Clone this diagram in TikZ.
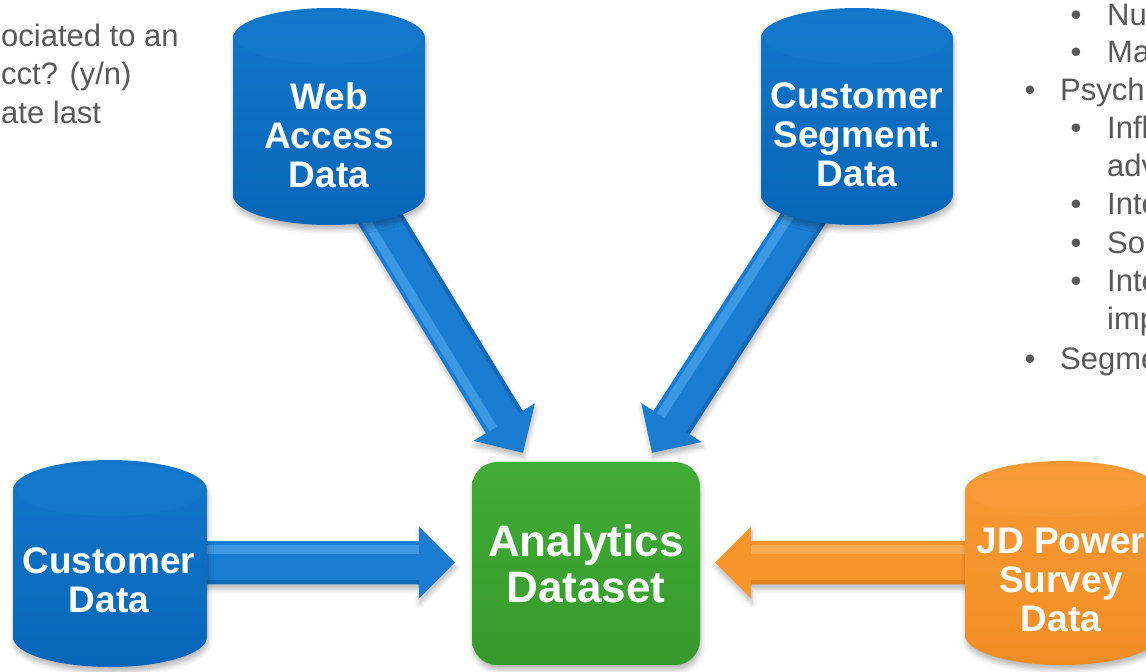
\documentclass[tikz,border=0pt]{standalone}
\usepackage{fontspec}
\setmainfont{Liberation Sans}
\usetikzlibrary{calc,shadows.blur}

\pgfdeclarelayer{bg}
\pgfsetlayers{bg,main}

\definecolor{dbbluetop}{HTML}{1277CB}
\definecolor{dbbluebot}{HTML}{0866B8}
\definecolor{dbcap}{HTML}{1A7ED0}
\definecolor{flowblue}{HTML}{1A7DD2}
\definecolor{flowlight}{HTML}{3A98E4}
\definecolor{flowdark}{HTML}{116AB7}
\definecolor{jdtop}{HTML}{F89A34}
\definecolor{jdbot}{HTML}{F28D24}
\definecolor{jdcap}{HTML}{F9A145}
\definecolor{floworange}{HTML}{F7942B}
\definecolor{orangelight}{HTML}{F9AA52}
\definecolor{orangedark}{HTML}{E6841D}
\definecolor{anatop}{HTML}{41AC35}
\definecolor{anabot}{HTML}{36992B}
\definecolor{notegray}{HTML}{595959}

% database can: centre x, top y, bottom y, x radius, y radius, body style, cap colour
\newcommand\canpath[7]{%
  \path[#6] (#1-#4,#2+#5) arc[start angle=180, end angle=360, x radius=#4, y radius=#5]
    -- (#1+#4,#3-#5) arc[start angle=0, end angle=180, x radius=#4, y radius=#5] -- cycle;
  \path[fill=#7, opacity=0.3] (#1,#2+#5) ellipse[x radius=#4-4, y radius=#5-4];
}

% block arrow: from, to, fill, light colour, dark colour, side of the light edge
\newcommand\flowarrow[6]{%
  \coordinate (fa-base) at ($(#2)!36pt!(#1)$);
  \pgfmathsetmacro\faopp{-(#6)}
  \path[fill=#3, softshadow, path picture={
      \draw[#4, line width=9pt] ($(#1)!13pt!#6:(#2)$) -- ($(fa-base)!13pt!\faopp:(#1)$);
      \draw[#5, line width=5pt] ($(#1)!20pt!\faopp:(#2)$) -- ($(fa-base)!20pt!#6:(#1)$);
    }]
    ($(#1)!21.5pt!90:(#2)$) -- ($(fa-base)!21.5pt!90:(#2)$) -- ($(fa-base)!36pt!90:(#2)$)
    -- (#2) -- ($(fa-base)!36pt!-90:(#2)$) -- ($(fa-base)!21.5pt!-90:(#2)$)
    -- ($(#1)!21.5pt!-90:(#2)$) -- cycle;
}

\tikzset{
  softshadow/.style={blur shadow={shadow xshift=1pt, shadow yshift=-5pt,
      shadow blur radius=5pt, shadow opacity=28}},
  bluecan/.style={top color=dbbluetop, bottom color=dbbluebot, softshadow},
  orangecan/.style={top color=jdtop, bottom color=jdbot, softshadow},
  dblabel/.style={text=white, font=\fontsize{37}{39}\selectfont\bfseries,
      align=center, inner sep=0pt},
  anabox/.style={rounded corners=25pt, minimum width=228pt, minimum height=203pt,
      top color=anatop, bottom color=anabot, softshadow, text=white,
      font=\fontsize{44}{46}\selectfont\bfseries, align=center, inner sep=0pt},
  note/.style={text=notegray, font=\fontsize{31}{38}\selectfont, inner sep=0pt,
      anchor=base west},
  notedot/.style={text=notegray, font=\fontsize{31}{38}\selectfont, inner sep=0pt,
      anchor=base},
}

\begin{document}
\begin{tikzpicture}[x=1pt, y=-1pt]
\useasboundingbox (0,0) rectangle (1146,672);

% data sources
\canpath{329}{8}{225}{96}{30}{bluecan}{dbcap}
\canpath{857}{8}{225}{96}{30}{bluecan}{dbcap}
\canpath{110}{460}{667}{97}{30}{bluecan}{dbcap}
\canpath{1062}{461}{665}{97}{30}{orangecan}{jdcap}

\node[dblabel] (web) at (329,135) {Web\\Access\\Data};
\node[dblabel] (seg) at (857,135) {Customer\\Segment.\\Data};
\node[dblabel] (cust) at (109,580) {Customer\\Data};
\node[dblabel] (jd) at (1061,580) {JD Power\\Survey\\Data};

% target dataset
\node[anabox] (ana) at (586,563.5) {Analytics\\Dataset};

% arrow end points
\coordinate (tipW) at ($(ana.north)+(-63,-9)$);
\coordinate (tipS) at ($(ana.north)+(66,-9)$);
\coordinate (tipC) at ($(ana.west)+(-17,-1)$);
\coordinate (tipJ) at ($(ana.east)+(15,-1)$);
\coordinate (srcC) at (cust.center |- tipC);
\coordinate (srcJ) at (jd.center |- tipJ);

\begin{pgfonlayer}{bg}
  \flowarrow{web.center}{tipW}{flowblue}{flowlight}{flowdark}{-90}
  \flowarrow{seg.center}{tipS}{flowblue}{flowlight}{flowdark}{-90}
  \flowarrow{srcC}{tipC}{flowblue}{flowlight}{flowdark}{90}
  \flowarrow{srcJ}{tipJ}{floworange}{orangelight}{orangedark}{-90}
\end{pgfonlayer}

% notes along the left edge
\node[note] (l1) at (1,46) {ociated to an};
\node[note] (l2) at (1,84) {cct? (y/n)};
\node[note] (l3) at (1,123) {ate last};

% notes along the right edge
\node[notedot] (d1) at (1076,25) {•};   \node[note] (r1) at (1107,25) {Nu};
\node[notedot] (d2) at (1076,62) {•};   \node[note] (r2) at (1107,62) {Ma};
\node[notedot] (d3) at (1030,100) {•};  \node[note] (r3) at (1060,100) {Psych};
\node[notedot] (d4) at (1076,138) {•};  \node[note] (r4) at (1107,138) {Infl};
                                         \node[note] (r5) at (1107,176) {adv};
\node[notedot] (d6) at (1076,214) {•};  \node[note] (r6) at (1107,214) {Inte};
\node[notedot] (d7) at (1076,253) {•};  \node[note] (r7) at (1107,253) {So};
\node[notedot] (d8) at (1076,291) {•};  \node[note] (r8) at (1107,291) {Inte};
                                         \node[note] (r9) at (1107,329) {imp};
\node[notedot] (d10) at (1030,369) {•}; \node[note] (r10) at (1060,369) {Segme};
\end{tikzpicture}
\end{document}
